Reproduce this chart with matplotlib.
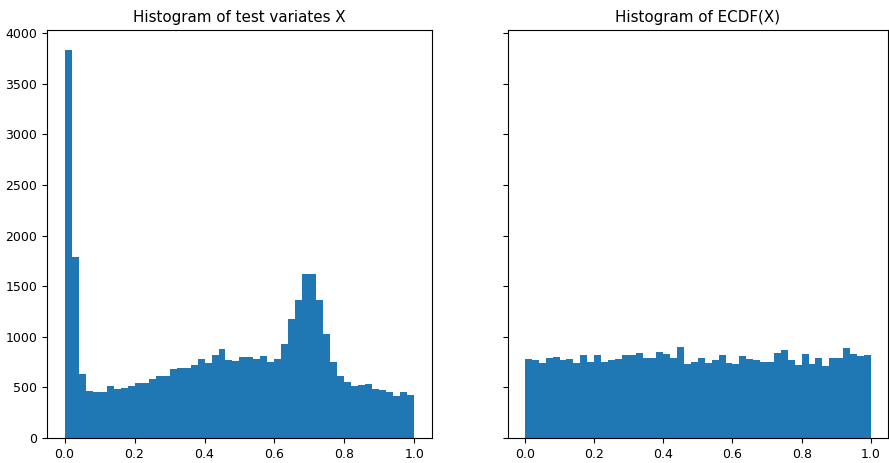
import numpy as np
import matplotlib
matplotlib.use("Agg")
import matplotlib.pyplot as plt

# 50 equal-width bins on [0, 1]
bin_edges = np.linspace(0.0, 1.0, 51)

counts_x = [3840, 1790, 633, 466, 456, 456, 510, 483, 496, 510,
            543, 543, 583, 616, 616, 683, 696, 696, 719, 783,
            743, 819, 880, 769, 759, 796, 796, 783, 809, 756,
            783, 932, 1172, 1365, 1625, 1625, 1362, 1032, 756, 609,
            556, 510, 523, 533, 483, 470, 456, 416, 456, 423]

counts_ecdf = [782, 769, 746, 791, 804, 769, 782, 746, 817, 756,
               820, 756, 769, 778, 820, 820, 840, 795, 795, 853,
               833, 795, 904, 733, 753, 791, 746, 775, 820, 746,
               733, 808, 782, 769, 756, 756, 840, 866, 769, 720,
               827, 733, 795, 711, 791, 791, 891, 833, 808, 820]

titles = ["Histogram of test variates X", "Histogram of ECDF(X)"]
xticks = [0.0, 0.2, 0.4, 0.6, 0.8, 1.0]
yticks = [0, 500, 1000, 1500, 2000, 2500, 3000, 3500, 4000]

fig = plt.figure(figsize=(8.89, 4.63), dpi=100)
ax1 = fig.add_axes([0.0529, 0.054, 0.433, 0.881])
ax2 = fig.add_axes([0.571, 0.054, 0.428, 0.881], sharey=ax1)

color = "#1f77b4"
for ax, counts, title in [(ax1, counts_x, titles[0]), (ax2, counts_ecdf, titles[1])]:
    ax.hist(bin_edges[:-1], bins=bin_edges, weights=counts, color=color)
    ax.set_title(title, fontsize=10.9)
    ax.set_xticks(xticks)
    ax.tick_params(labelsize=9)

ax1.set_yticks(yticks)
ax2.tick_params(labelleft=False)

fig.savefig("out.png", dpi=100)
